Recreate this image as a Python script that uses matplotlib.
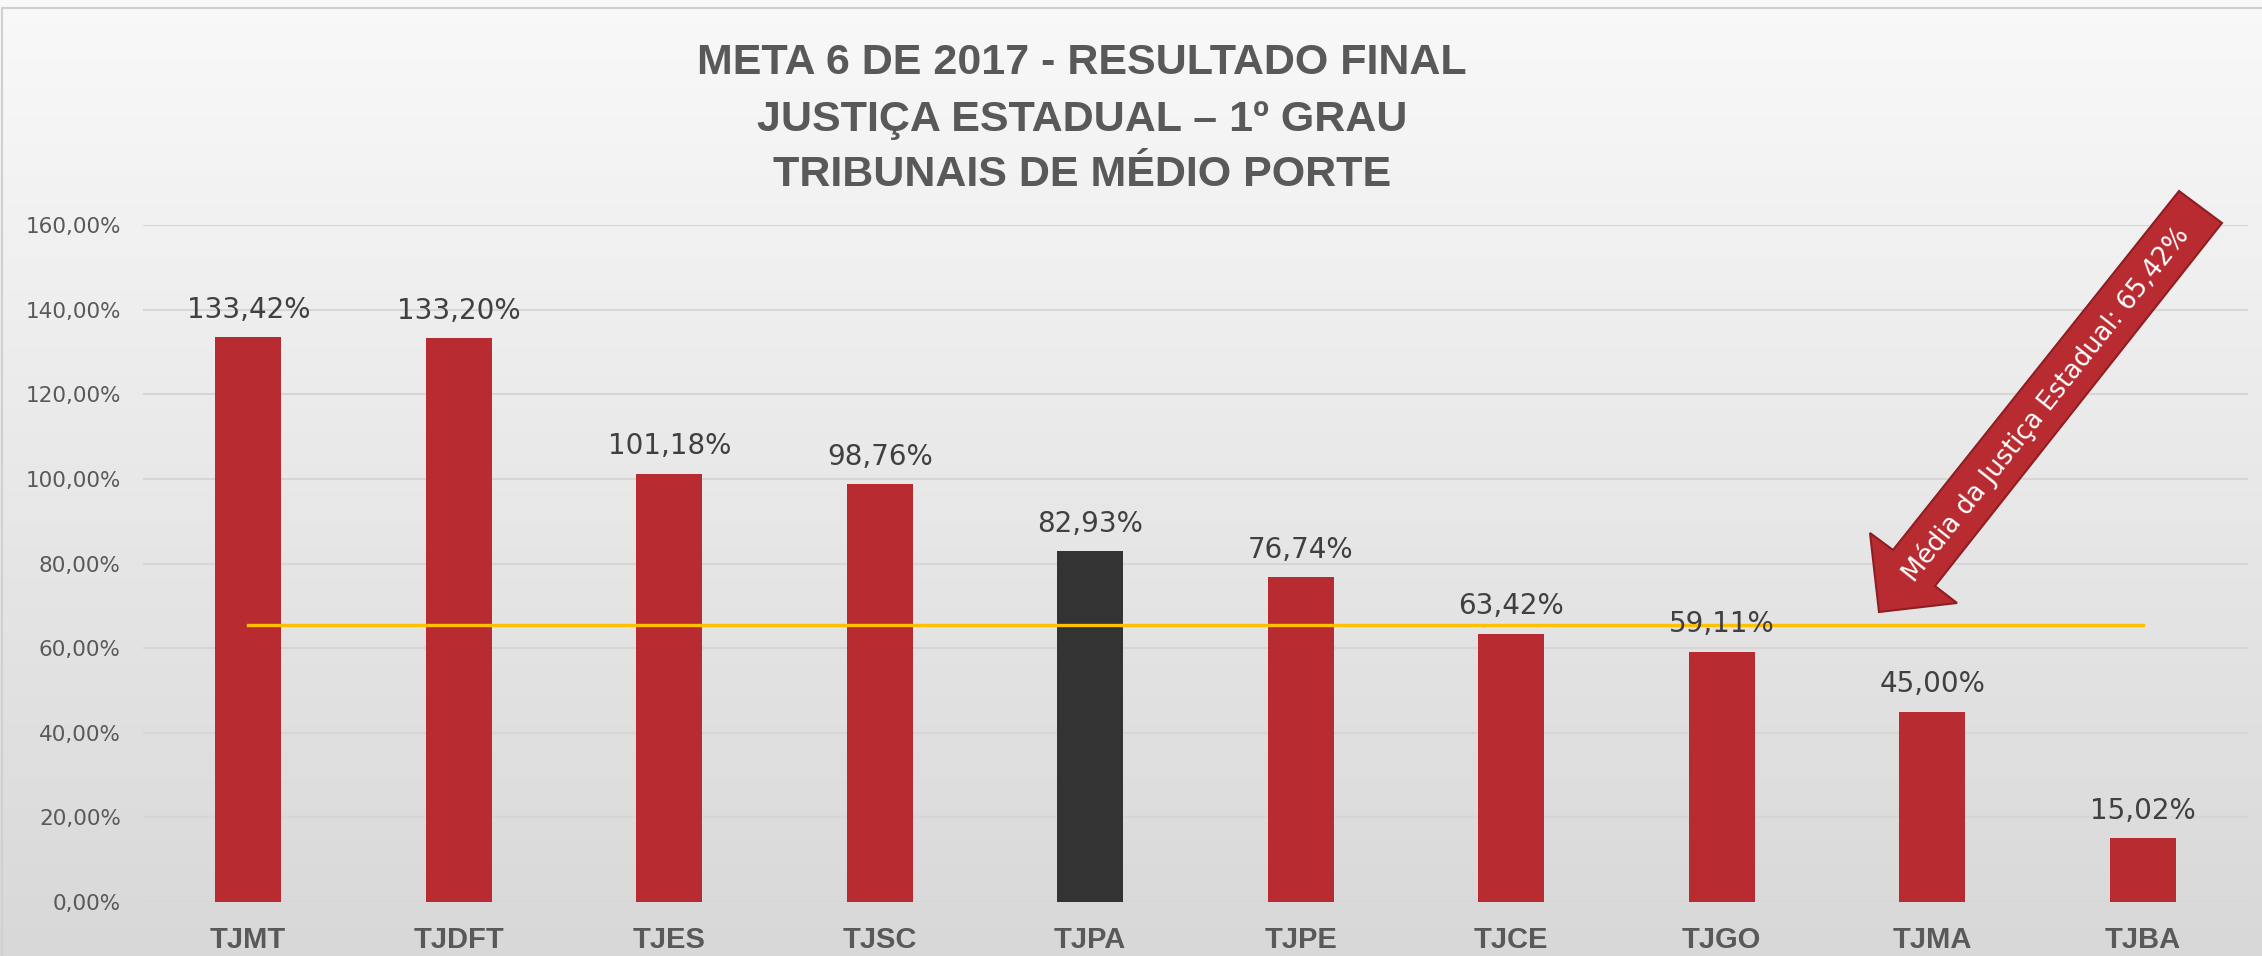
import numpy as np
import matplotlib
matplotlib.use('Agg')
import matplotlib.pyplot as plt
from matplotlib.patches import Polygon, Rectangle

#%% Data
tribunais = ['TJMT', 'TJDFT', 'TJES', 'TJSC', 'TJPA', 'TJPE', 'TJCE', 'TJGO', 'TJMA', 'TJBA']
resultado = [133.42, 133.20, 101.18, 98.76, 82.93, 76.74, 63.42, 59.11, 45.00, 15.02]
media = 65.42
destaque = 'TJPA'
yticks = [0, 20, 40, 60, 80, 100, 120, 140, 160]

#%% Styles
W, H = 2262, 956
red = '#B82B30'
dark = '#333333'
gold = '#FFC000'
txt = '#595959'
bold_font = 'Liberation Sans'

def br(v):
    return ('%.2f' % v).replace('.', ',') + '%'

fig = plt.figure(figsize=(W/100, H/100), dpi=100)

#%% background gradient
bg = fig.add_axes([0, 0, 1, 1], zorder=-10)
grad = np.linspace(0, 1, 256).reshape(-1, 1)
top_c = np.array([249, 249, 249])/255.
bot_c = np.array([216, 216, 216])/255.
img = top_c[None, None, :]*(1-grad[:, :, None]) + bot_c[None, None, :]*grad[:, :, None]
bg.imshow(img, aspect='auto', extent=[0, 1, 0, 1])
bg.add_patch(Rectangle((2/W, -0.01), 1.02, 1-8/H+0.01, fill=False, ec='#D0D0D0', lw=1.5))
bg.set_xlim(0, 1)
bg.set_ylim(0, 1)
bg.axis('off')

#%% main axes
ax = fig.add_axes([143/W, 1-902/H, (2248-143)/W, (902-225)/H])
ax.patch.set_alpha(0)
x = np.arange(len(tribunais))
cores = [dark if t == destaque else red for t in tribunais]
ax.bar(x, resultado, width=0.315, color=cores, zorder=3)
ax.plot([x[0], x[-1]], [media, media], color=gold, lw=2.4, zorder=4)

for xi, v in zip(x, resultado):
    ax.text(xi, v + 3.2, br(v), ha='center', va='bottom', fontsize=20,
            color='#404040', zorder=5)

ax.set_xlim(-0.5, len(tribunais) - 0.5)
ax.set_ylim(0, 160)
ax.set_yticks(yticks)
ax.set_yticklabels([br(v) for v in yticks], fontsize=15.5, color=txt)
ax.set_xticks(x)
ax.set_xticklabels(tribunais, fontsize=21, fontweight='bold', color=txt, family=bold_font)
ax.tick_params(axis='both', length=0)
ax.tick_params(axis='x', pad=17)
ax.tick_params(axis='y', pad=16)
ax.grid(axis='y', color='#D6D6D6', lw=1.5, zorder=0)
for s in ax.spines.values():
    s.set_visible(False)

#%% title
titulo = ['META 6 DE 2017 - RESULTADO FINAL',
          'JUSTIÇA ESTADUAL – 1º GRAU',
          'TRIBUNAIS DE MÉDIO PORTE']
for linha, yy in zip(titulo, [63, 120, 175]):
    fig.text(1082/W, 1-yy/H, linha, ha='center', va='center',
             fontsize=31, fontweight='bold', color=txt, family=bold_font)

#%% block arrow pointing to the average line
pts = [(2179, 191), (2222, 223), (1935, 586), (1957, 603), (1879, 612),
       (1870, 533), (1893, 550)]
arrow = Polygon([(px/W, 1-py/H) for px, py in pts], closed=True,
                transform=fig.transFigure, fc=red, ec='#8E1E22', lw=1.5, zorder=20)
fig.patches.append(arrow)
fig.text(2046/W, 1-404/H, 'Média da Justiça Estadual: ' + br(media), ha='center', va='center',
         rotation=51.6, rotation_mode='anchor', fontsize=18.5, color='white', zorder=21)

fig.savefig('out.png', dpi=100)
